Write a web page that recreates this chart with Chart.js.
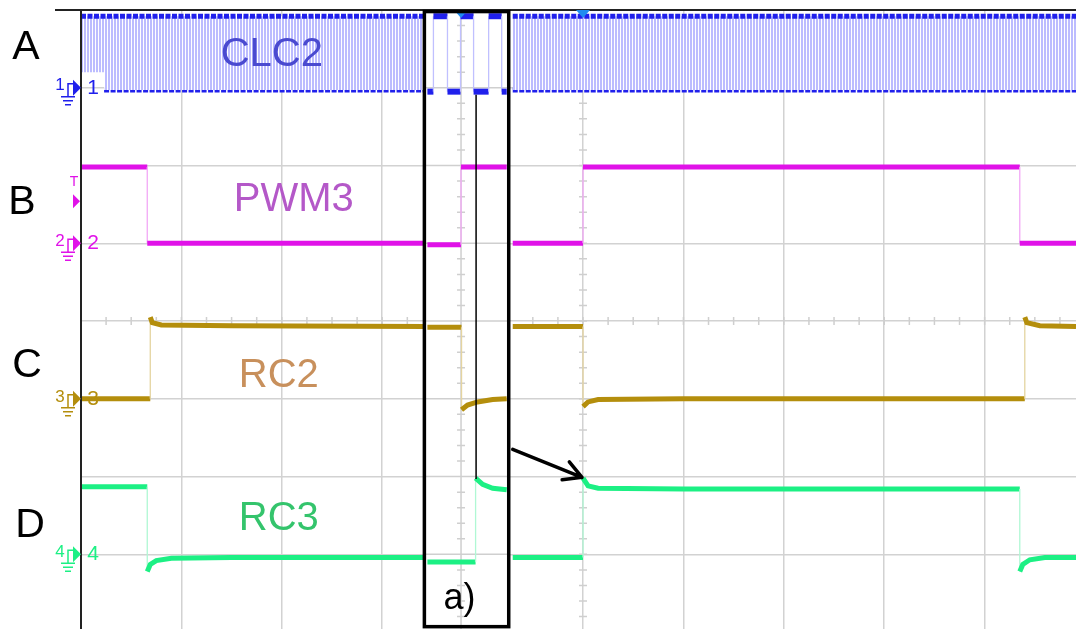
<!DOCTYPE html>
<html>
<head>
<meta charset="utf-8">
<script src="https://cdn.jsdelivr.net/npm/chart.js@4/dist/chart.umd.min.js"></script>
<style>
  html, body { margin: 0; padding: 0; background: #fff; }
  #wrap { width: 1076px; height: 629px; position: relative; }
</style>
</head>
<body>
<div id="wrap"><canvas id="scope"></canvas></div>
<script>
// x = time in screen divisions (0 = left edge), y = screen divisions (0 = bottom)

// CLC2 is a fast clock: main view drawn as its high/low envelope
const clc2TopLeft = [[0, 7.92], [3.43, 7.92]];
const clc2BotLeft = [[0, 7.2], [0.23, 7.2], [0.23, 6.97], [3.43, 6.97]];
const clc2TopRight = [[4.30, 7.92], [9.91, 7.92]];
const clc2BotRight = [[4.30, 6.97], [9.91, 6.97]];
const clc2Inset = [[3.45, 6.95], [3.51, 6.95], [3.51, 7.92], [3.65, 7.92], [3.65, 6.95], [3.78, 6.95],
  [3.78, 7.92], [3.91, 7.92], [3.91, 6.95], [4.06, 6.95], [4.06, 7.92], [4.19, 7.92], [4.19, 6.95], [4.24, 6.95]];

const pwm3Left = [[0, 5.98], [0.66, 5.98], [0.66, 5.0], [3.43, 5.0]];
const pwm3Right = [[4.30, 5.0], [5.0, 5.0], [5.0, 5.98], [9.35, 5.98], [9.35, 5.0], [9.91, 5.0]];
const pwm3Inset = [[3.45, 4.98], [3.785, 4.98], [3.785, 5.98], [4.24, 5.98]];

const rc2Left = [[0, 3.0], [0.69, 3.0], [0.69, 4.05], [0.71, 3.98], [0.8, 3.95], [1.5, 3.94], [3.43, 3.93]];
const rc2Right = [[4.30, 3.93], [5.0, 3.93], [5.0, 2.9], [5.05, 2.96], [5.15, 2.99], [6.0, 3.0],
  [9.40, 3.0], [9.40, 4.05], [9.42, 3.98], [9.55, 3.94], [9.91, 3.93]];
const rc2Inset = [[3.45, 3.92], [3.79, 3.92], [3.79, 2.86], [3.85, 2.92], [3.95, 2.96], [4.1, 2.99], [4.24, 3.0]];

const rc3Left = [[0, 1.87], [0.66, 1.87], [0.66, 0.78], [0.69, 0.87], [0.75, 0.92], [0.9, 0.95], [1.5, 0.96], [3.43, 0.96]];
const rc3Right = [[4.30, 0.96], [5.0, 0.96], [5.0, 1.98], [5.05, 1.88], [5.15, 1.85], [6.0, 1.84],
  [9.35, 1.84], [9.35, 0.78], [9.38, 0.87], [9.45, 0.93], [9.6, 0.96], [9.91, 0.96]];
const rc3Inset = [[3.45, 0.9], [3.93, 0.9], [3.93, 1.98], [4.0, 1.9], [4.1, 1.85], [4.24, 1.83]];

const traceNames = ['CLC2', 'PWM3', 'RC2', 'RC3'];
const rowLetters = ['A', 'B', 'C', 'D'];
const channelNums = ['1', '2', '3', '4'];
const groundLevels = [7, 5, 3, 1];

const traceColors = ['#2020ec', '#e012e8', '#b48e0c', '#1cf084'];
const edgeColors = ['#c0c0ff', '#f2a8f6', '#e4d4a0', '#b0f8d4'];
const nameColors = ['#4a4ad0', '#b458c8', '#c8905c', '#34c46c'];

// striped fill for the dense clock edges
function stripePattern() {
    const c = document.createElement('canvas');
    c.width = 3; c.height = 4;
    const g = c.getContext('2d');
    g.fillStyle = '#fff'; g.fillRect(0, 0, 3, 4);
    g.fillStyle = '#bcbcff'; g.fillRect(0, 0, 2, 4);
    return g.createPattern(c, 'repeat');
}

function pts(arr) { return arr.map(([x, y]) => ({ x, y })); }

function trace(arr, i, extra) {
    const vertical = c => c.p0.parsed.x === c.p1.parsed.x;
    return Object.assign({
        data: pts(arr),
        showLine: true,
        pointRadius: 0,
        borderColor: traceColors[i],
        borderWidth: 5,
        fill: false,
        segment: {
            borderColor: c => vertical(c) ? edgeColors[i] : undefined,
            borderWidth: c => vertical(c) ? 1.3 : undefined
        }
    }, extra);
}

const clcDash = { borderDash: [5, 1.5], borderWidth: 5 };
const stripes = stripePattern();

const datasets = [
    trace(clc2TopLeft, 0, Object.assign({ fill: '+1', backgroundColor: stripes }, clcDash)),
    trace(clc2BotLeft, 0, Object.assign({
        segment: { borderColor: c => c.p0.parsed.y > 7.1 || c.p1.parsed.y > 7.1 ? 'rgba(0,0,0,0)' : undefined }
    }, clcDash)),
    trace(clc2TopRight, 0, Object.assign({ fill: '+1', backgroundColor: stripes }, clcDash)),
    trace(clc2BotRight, 0, clcDash),
    trace(clc2Inset, 0, { borderWidth: 6 }),
    trace(pwm3Left, 1), trace(pwm3Right, 1), trace(pwm3Inset, 1),
    trace(rc2Left, 2), trace(rc2Right, 2), trace(rc2Inset, 2),
    trace(rc3Left, 3), trace(rc3Right, 3), trace(rc3Inset, 3)
];

// inset window "a)" in division units
const inset = { left: 3.42, right: 4.26, axis: 3.785, cursor: 3.935 };

const scopeDecor = {
    id: 'scopeDecor',
    beforeDatasetsDraw(chart) {
        const { ctx, scales: { x, y }, chartArea: a } = chart;
        ctx.save();
        // minor ticks on the centre axes
        ctx.strokeStyle = '#cfcfcf';
        ctx.lineWidth = 1.5;
        const cx = x.getPixelForValue(5), cy = y.getPixelForValue(4);
        ctx.beginPath();
        for (let v = 0.2; v < 8; v += 0.2) {
            const py = y.getPixelForValue(v);
            ctx.moveTo(cx - 4, py); ctx.lineTo(cx + 4, py);
        }
        for (let v = 0.25; v < 10; v += 0.25) {
            const px = x.getPixelForValue(v);
            ctx.moveTo(px, cy - 4); ctx.lineTo(px, cy + 4);
        }
        ctx.stroke();

        // inset window: blank it, then its own grid
        const l = x.getPixelForValue(inset.left), r = x.getPixelForValue(inset.right);
        ctx.fillStyle = '#fff';
        ctx.fillRect(l, a.top, r - l, a.bottom - a.top);
        ctx.beginPath();
        for (let v = 1; v < 8; v++) {
            const py = y.getPixelForValue(v);
            ctx.moveTo(l, py); ctx.lineTo(r, py);
        }
        const ix = x.getPixelForValue(inset.axis);
        ctx.moveTo(ix, a.top); ctx.lineTo(ix, a.bottom);
        for (let v = 0.2; v < 8; v += 0.2) {
            const py = y.getPixelForValue(v);
            ctx.moveTo(ix - 4, py); ctx.lineTo(ix + 4, py);
        }
        ctx.stroke();
        ctx.restore();
    },
    afterDatasetsDraw(chart) {
        const { ctx, scales: { x, y }, chartArea: a } = chart;
        ctx.save();

        // screen frame
        ctx.strokeStyle = '#222';
        ctx.lineWidth = 2;
        ctx.beginPath();
        ctx.moveTo(55, a.top); ctx.lineTo(a.right, a.top);
        ctx.moveTo(a.left, a.top); ctx.lineTo(a.left, a.bottom);
        ctx.stroke();

        // trigger position markers
        ctx.fillStyle = '#1f8cf0';
        [5, inset.axis].forEach(v => {
            const px = x.getPixelForValue(v);
            ctx.beginPath();
            ctx.moveTo(px - 7, a.top); ctx.lineTo(px + 7, a.top); ctx.lineTo(px, a.top + 8);
            ctx.closePath(); ctx.fill();
        });

        // trace names
        const namePos = [[1.90, 7.42], [2.12, 5.56], [1.97, 3.30], [1.97, 1.45]];
        ctx.textAlign = 'center';
        ctx.textBaseline = 'middle';
        ctx.font = '40px "Liberation Sans", Arial, sans-serif';
        traceNames.forEach((t, i) => {
            ctx.fillStyle = nameColors[i];
            ctx.fillText(t, x.getPixelForValue(namePos[i][0]), y.getPixelForValue(namePos[i][1]));
        });

        // row letters
        const letterX = [26, 22, 27, 30];
        const letterY = [7.51, 5.52, 3.43, 1.37];
        ctx.fillStyle = '#000';
        ctx.font = '41px "Liberation Sans", Arial, sans-serif';
        rowLetters.forEach((t, i) => ctx.fillText(t, letterX[i], y.getPixelForValue(letterY[i])));

        // channel ground markers
        groundLevels.forEach((lv, i) => {
            const py = y.getPixelForValue(lv);
            const col = traceColors[i];
            ctx.fillStyle = col; ctx.strokeStyle = col;
            ctx.lineWidth = 1.5;
            ctx.font = '17px "Liberation Sans", Arial, sans-serif';
            ctx.textAlign = 'center';
            ctx.fillText(channelNums[i], 60, py - 2);
            ctx.beginPath();
            ctx.moveTo(68, py + 9); ctx.lineTo(68, py - 4); ctx.lineTo(74, py - 4);
            ctx.moveTo(61, py + 9); ctx.lineTo(75, py + 9);
            ctx.moveTo(63, py + 13); ctx.lineTo(73, py + 13);
            ctx.moveTo(65, py + 17); ctx.lineTo(71, py + 17);
            ctx.stroke();
            ctx.beginPath();
            ctx.moveTo(73, py - 8); ctx.lineTo(81, py); ctx.lineTo(73, py + 8);
            ctx.closePath(); ctx.fill();
            ctx.font = '21px "Liberation Sans", Arial, sans-serif';
            ctx.fillText(channelNums[i], 93, py);
        });
        // trigger level marker on channel 2
        const ty = y.getPixelForValue(5.54);
        ctx.fillStyle = traceColors[1];
        ctx.font = '14px "Liberation Sans", Arial, sans-serif';
        ctx.fillText('T', 74, ty - 19);
        ctx.beginPath();
        ctx.moveTo(73, ty - 7); ctx.lineTo(80, ty); ctx.lineTo(73, ty + 7);
        ctx.closePath(); ctx.fill();

        // inset box, cursor line and arrow
        const l = x.getPixelForValue(inset.left), r = x.getPixelForValue(inset.right);
        const top = y.getPixelForValue(7.98), bot = y.getPixelForValue(0.07);
        ctx.strokeStyle = '#000';
        ctx.lineWidth = 3.5;
        ctx.strokeRect(l, top, r - l, bot - top);

        ctx.lineWidth = 1.5;
        ctx.beginPath();
        const cxp = x.getPixelForValue(inset.cursor);
        ctx.moveTo(cxp, y.getPixelForValue(6.91)); ctx.lineTo(cxp, y.getPixelForValue(1.97));
        ctx.stroke();

        const ax0 = x.getPixelForValue(4.30), ay0 = y.getPixelForValue(2.35);
        const ax1 = x.getPixelForValue(4.99), ay1 = y.getPixelForValue(1.99);
        ctx.lineWidth = 3.5;
        ctx.lineCap = 'round';
        ctx.beginPath();
        ctx.moveTo(ax0, ay0); ctx.lineTo(ax1, ay1);
        const ang = Math.atan2(ay1 - ay0, ax1 - ax0);
        [0.5, -0.5].forEach(d => {
            ctx.moveTo(ax1, ay1);
            ctx.lineTo(ax1 - 20 * Math.cos(ang + d), ay1 - 20 * Math.sin(ang + d));
        });
        ctx.stroke();

        ctx.fillStyle = '#000';
        ctx.textAlign = 'center';
        ctx.font = '36px "Liberation Sans", Arial, sans-serif';
        ctx.fillText('a)', x.getPixelForValue(3.77), y.getPixelForValue(0.42));
        ctx.restore();
    }
};

new Chart(document.getElementById('scope'), {
    type: 'scatter',
    data: { datasets },
    options: {
        responsive: true,
        maintainAspectRatio: false,
        animation: false,
        layout: { padding: { left: 81, top: 10, right: 0, bottom: 0 } },
        plugins: { legend: { display: false }, tooltip: { enabled: false } },
        scales: {
            x: {
                type: 'linear', min: 0, max: 9.91,
                grid: { color: '#d2d2d2', lineWidth: 1.5, drawTicks: false },
                border: { display: false },
                ticks: { display: false, stepSize: 1, includeBounds: false }
            },
            y: {
                type: 'linear', min: 0.04, max: 8,
                grid: { color: '#d2d2d2', lineWidth: 1.5, drawTicks: false },
                border: { display: false },
                ticks: { display: false, stepSize: 1, includeBounds: false }
            }
        }
    },
    plugins: [scopeDecor]
});
</script>
</body>
</html>
